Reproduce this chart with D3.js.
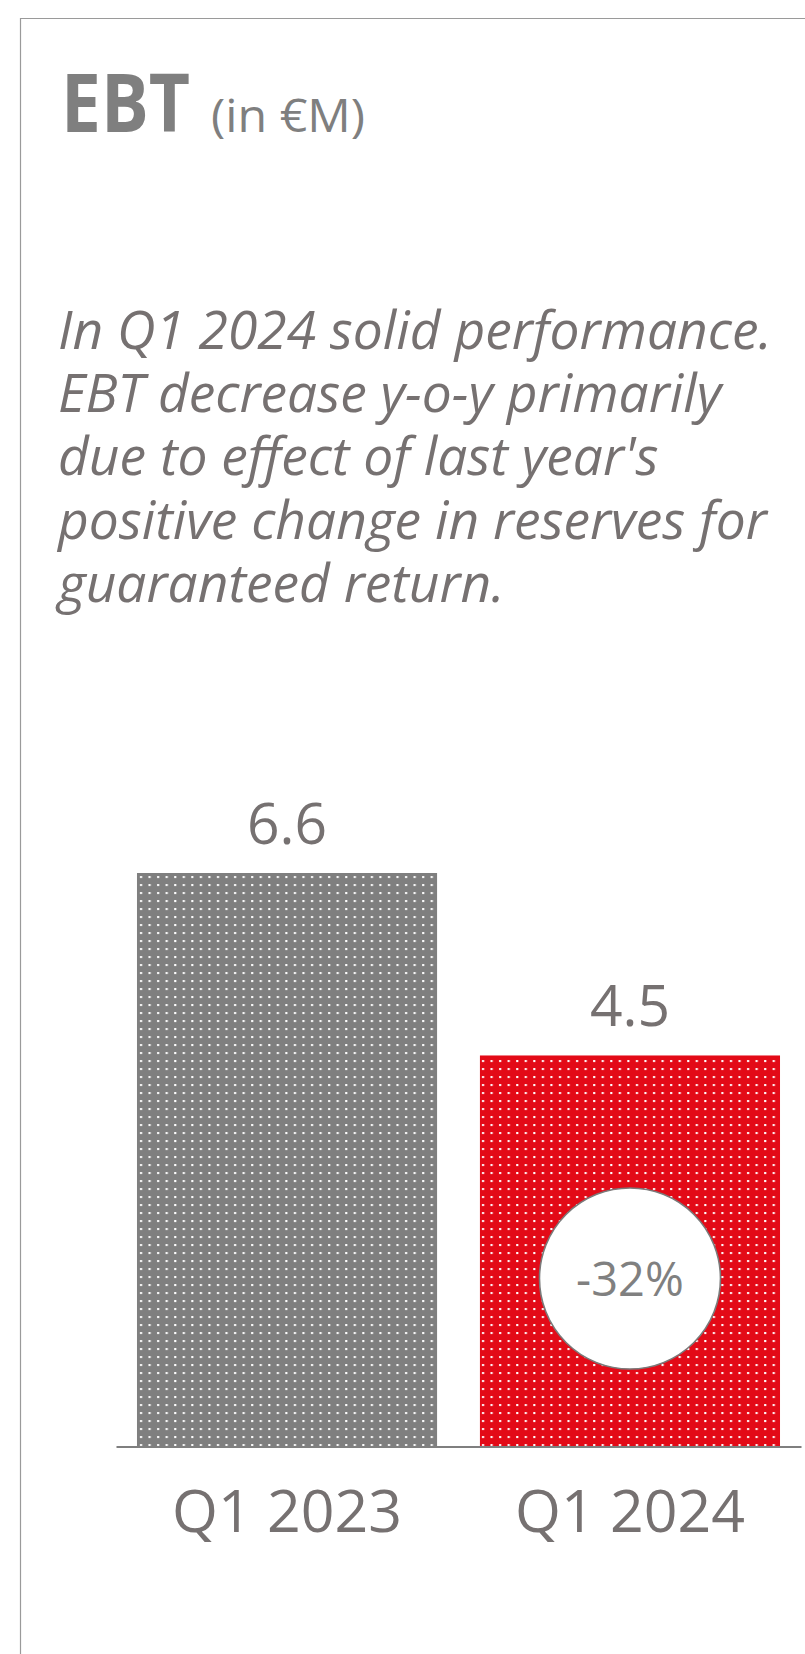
<!DOCTYPE html>
<html>
<head>
<meta charset="utf-8">
<script src="https://cdn.jsdelivr.net/npm/d3@7"></script>
<style>
html,body{margin:0;padding:0;background:#fff;}
svg{display:block;}
</style>
</head>
<body>
<script>
const categories = ["Q1 2023", "Q1 2024"];
const values = [6.6, 4.5];
const valueLabels = ["6.6", "4.5"];
const barColors = ["#7f7f7f", "#e30a17"];
const changeLabel = "-32%";
const titleMain = "EBT";
const titleUnit = "(in €M)";
const commentLines = [
  "In Q1 2024 solid performance.",
  "EBT decrease y-o-y primarily",
  "due to effect of last year's",
  "positive change in reserves for",
  "guaranteed return."
];

const W = 805, H = 1654;
const textColor = "#767171";
const svg = d3.select("body").append("svg").attr("width", W).attr("height", H);

// dotted patterns
const defs = svg.append("defs");
barColors.forEach((c, i) => {
  const p = defs.append("pattern").attr("id", "dots" + i)
    .attr("patternUnits", "userSpaceOnUse").attr("width", 8.55).attr("height", 8)
    .attr("x", 137).attr("y", 873);
  p.append("rect").attr("width", 8.55).attr("height", 8).attr("fill", c);
  p.append("rect").attr("x", 3).attr("y", 3).attr("width", 2.1).attr("height", 2.1).attr("fill", "#fff");
});

// frame
svg.append("path").attr("d", `M20.5,${H} V18.5 H${W}`).attr("fill", "none")
  .attr("stroke", "#9a9a9a").attr("stroke-width", 1.2);

// title
svg.append("text").attr("x", 61).attr("y", 132)
  .attr("font-family", "Open Sans").attr("font-weight", 700).attr("font-size", 80)
  .attr("textLength", 129).attr("lengthAdjust", "spacingAndGlyphs")
  .attr("fill", "#7f7f7f").text(titleMain);
svg.append("text").attr("x", 211).attr("y", 132)
  .attr("font-family", "Open Sans").attr("font-weight", 400).attr("font-size", 46)
  .attr("textLength", 154).attr("lengthAdjust", "spacingAndGlyphs")
  .attr("fill", "#7f7f7f").text(titleUnit);

// comment
svg.append("g").selectAll("text").data(commentLines).join("text")
  .attr("x", 58).attr("y", (d, i) => 349 + i * 63.2)
  .attr("font-family", "Open Sans").attr("font-style", "italic").attr("font-size", 53.3)
  .attr("fill", textColor).text(d => d);

// scales
const x = d3.scaleBand().domain(categories).range([116, 801]).paddingInner(0.125).paddingOuter(0.0612);
const y = d3.scaleLinear().domain([0, d3.max(values)]).range([1446.5, 873]);

// bars
svg.append("g").selectAll("rect").data(values).join("rect")
  .attr("x", (d, i) => x(categories[i]))
  .attr("y", d => y(d))
  .attr("width", x.bandwidth())
  .attr("height", d => y(0) - y(d))
  .attr("fill", (d, i) => `url(#dots${i})`);

// value labels
svg.append("g").selectAll("text").data(values).join("text")
  .attr("x", (d, i) => x(categories[i]) + x.bandwidth() / 2)
  .attr("y", d => y(d) - 29)
  .attr("text-anchor", "middle")
  .attr("font-family", "Open Sans").attr("font-size", 57)
  .attr("fill", textColor).text((d, i) => valueLabels[i]);

// axis
const axis = svg.append("g").attr("transform", `translate(0,${y(0)})`)
  .call(d3.axisBottom(x).tickSize(0).tickPadding(0));
axis.select(".domain").attr("stroke", "#7f7f7f").attr("stroke-width", 2.2);
axis.selectAll(".tick text")
  .attr("y", 85).attr("dy", 0)
  .attr("font-family", "Open Sans").attr("font-size", 59)
  .attr("fill", textColor);

// change bubble
const cx = x(categories[1]) + x.bandwidth() / 2;
const cy = 1278.5;
svg.append("circle").attr("cx", cx).attr("cy", cy).attr("r", 90.5)
  .attr("fill", "#fff").attr("stroke", "#7a7a7a").attr("stroke-width", 1.6);
svg.append("text").attr("x", cx).attr("y", cy + 17.5).attr("text-anchor", "middle")
  .attr("font-family", "Open Sans").attr("font-size", 47)
  .attr("fill", "#808080").text(changeLabel);
</script>
</body>
</html>
